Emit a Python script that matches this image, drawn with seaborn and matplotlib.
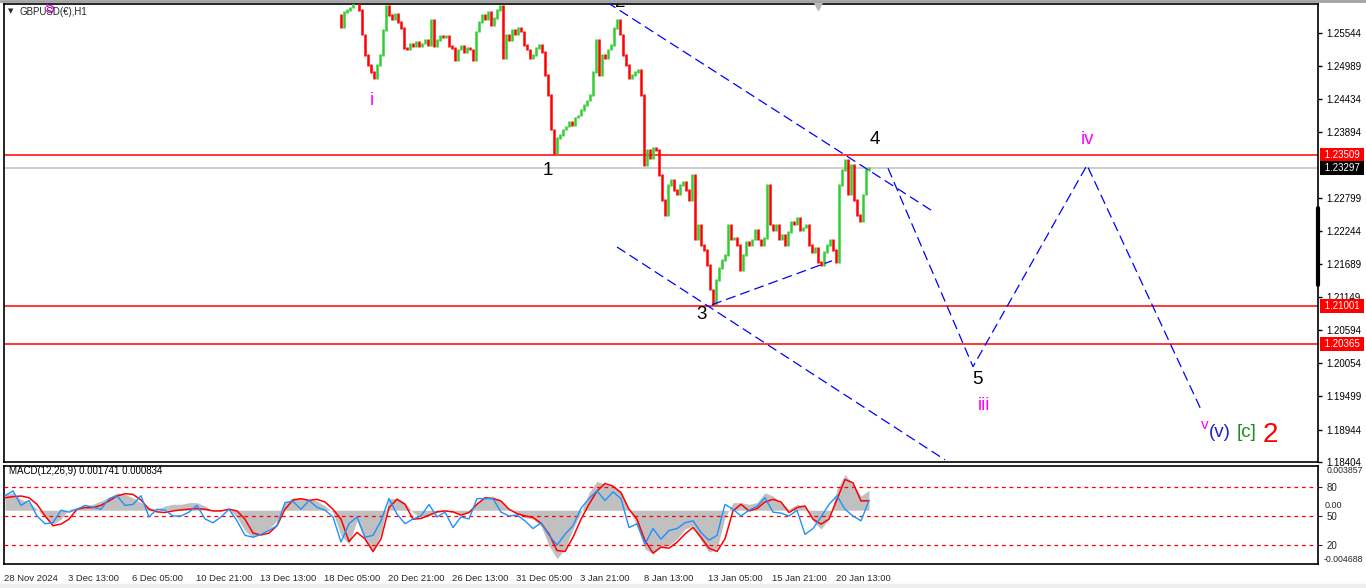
import numpy as np
import pandas as pd
import matplotlib
matplotlib.use("Agg")
import matplotlib.pyplot as plt
from matplotlib.lines import Line2D
from matplotlib.patches import Rectangle
import seaborn as sns

sns.set_style("white")
plt.rcParams['font.family'] = ['Liberation Sans', 'DejaVu Sans']

# ---------------- data ----------------
symbol_title = "GBPUSD(€),H1"
macd_title = "MACD(12,26,9) 0.001741 0.000834"

# hourly closes (sampled), GBPUSD
close_prices = [
    1.2584, 1.2564, 1.2589, 1.2592, 1.2596, 1.2605, 1.2622, 1.2592, 1.2551, 1.2517,
    1.2501, 1.2489, 1.2479, 1.2501, 1.2517, 1.2559, 1.2600, 1.2584, 1.2576, 1.2586,
    1.2572, 1.2562, 1.2529, 1.2526, 1.2536, 1.2531, 1.2539, 1.2532, 1.2536, 1.2542,
    1.2534, 1.2576, 1.2532, 1.2542, 1.2549, 1.2546, 1.2549, 1.2532, 1.2529, 1.2509,
    1.2526, 1.2532, 1.2522, 1.2529, 1.2526, 1.2509, 1.2556, 1.2572, 1.2584, 1.2576,
    1.2589, 1.2567, 1.2579, 1.2592, 1.2600, 1.2512, 1.2551, 1.2542, 1.2559, 1.2551,
    1.2562, 1.2556, 1.2534, 1.2526, 1.2512, 1.2517, 1.2529, 1.2534, 1.2522, 1.2484,
    1.2451, 1.2393, 1.2354, 1.2379, 1.2384, 1.2393, 1.2398, 1.2406, 1.2401, 1.2413,
    1.2417, 1.2426, 1.2434, 1.2442, 1.2451, 1.2489, 1.2542, 1.2484, 1.2517, 1.2512,
    1.2526, 1.2534, 1.2562, 1.2576, 1.2551, 1.2517, 1.2501, 1.2479, 1.2484, 1.2489,
    1.2492, 1.2451, 1.2334, 1.2359, 1.2346, 1.2363, 1.2359, 1.2318, 1.2276, 1.2251,
    1.2301, 1.2310, 1.2293, 1.2285, 1.2301, 1.2306, 1.2293, 1.2276, 1.2318, 1.2210,
    1.2235, 1.2201, 1.2193, 1.2168, 1.2127, 1.2103, 1.2143, 1.2163, 1.2176, 1.2185,
    1.2235, 1.2210, 1.2213, 1.2201, 1.2160, 1.2185, 1.2206, 1.2201, 1.2210, 1.2226,
    1.2210, 1.2201, 1.2213, 1.2301, 1.2235, 1.2226, 1.2235, 1.2210, 1.2218, 1.2201,
    1.2223, 1.2240, 1.2235, 1.2246, 1.2226, 1.2230, 1.2235, 1.2201, 1.2190, 1.2196,
    1.2173, 1.2168, 1.2190, 1.2201, 1.2210, 1.2193, 1.2173, 1.2301, 1.2326, 1.2343,
    1.2285, 1.2334, 1.2276, 1.2251, 1.2240, 1.2285, 1.2326, 1.2330]

# MACD main / signal (units of 1e-5), oscillator (0-100)
macd_main_e5 = [
    138, 152, 95, 66, 9, -63, -121, -78, 9, 23, 37, 52, 81, 109, 152, 138, 109, 66, 23, 9,
    37, 52, 52, 66, 66, 37, -6, -6, 9, -63, -178, -236, -207, -164, -92, 66, 109, 101, 95, 81,
    37, -20, -222, -293, -92, -265, -365, -193, 95, 109, 66, -20, -63, -49, -20, -6,
    -20, -35, -20, 66, 109, 124, 81, 9, -35, -63, -78, -135, -308, -423, -337, -164, -20, 152, 253, 224,
    210, 167, 9, -135, -337, -380, -322, -308, -250, -164, -135, -265, -365, -337, -63, 66, 66, 52, 66, 152,
    124, 66, 9, 52, 37, -92, -164, -78, 181, 311, 224, 124, 174]
macd_signal_e5 = [
    109, 118, 124, 109, 52, -49, -135, -121, -78, 9, 23, 23, 43, 81, 124, 144, 138, 89, 9, -14,
    -20, -6, 3, 9, 14, 9, -6, -6, 9, -6, -78, -199, -216, -199, -135, 9, 89, 101, 86, 95,
    72, 9, -78, -273, -193, -250, -360, -250, 23, 95, 52, -78, -72, -43, -14, -6,
    -14, -43, -20, 52, 109, 101, 81, 9, -29, -49, -63, -112, -207, -351, -360, -236, -78, 52, 167, 233,
    210, 152, 9, -78, -265, -374, -322, -331, -279, -207, -150, -236, -331, -360, -250, -6, 52, -6, 14, 72,
    95, 72, -20, 23, 37, -78, -121, -78, 95, 268, 239, 81, 83]
oscillator = [
    71, 76, 61, 66, 50, 42, 43, 56, 54, 57, 61, 59, 57, 68, 71, 61, 62, 71, 49, 57,
    56, 50, 50, 54, 61, 47, 43, 49, 57, 45, 30, 28, 31, 35, 40, 64, 65, 57, 66, 59,
    56, 49, 23, 42, 49, 28, 30, 45, 68, 52, 42, 47, 50, 62, 49, 54,
    38, 49, 47, 68, 68, 68, 54, 50, 51, 45, 37, 43, 30, 20, 31, 40, 58, 68, 76, 66,
    75, 68, 38, 42, 21, 37, 26, 35, 37, 43, 45, 33, 25, 30, 62, 57, 50, 56, 60, 69,
    54, 53, 50, 56, 31, 37, 49, 62, 71, 57, 50, 45, 66]
osc_levels = [80, 50, 20]

price_ticks = [1.25544, 1.24989, 1.24434, 1.23894, 1.22799, 1.22244, 1.21689,
               1.21149, 1.20594, 1.20054, 1.19499, 1.18944, 1.18404]
price_tick_labels = ["1.25544", "1.24989", "1.24434", "1.23894", "1.22799", "1.22244", "1.21689",
                     "1.21149", "1.20594", "1.20054", "1.19499", "1.18944", "1.18404"]
red_levels = [1.23509, 1.21001, 1.20365]
bid_level = 1.23297

date_tick_labels = ["28 Nov 2024", "3 Dec 13:00", "6 Dec 05:00", "10 Dec 21:00", "13 Dec 13:00",
                    "18 Dec 05:00", "20 Dec 21:00", "26 Dec 13:00", "31 Dec 05:00", "3 Jan 21:00",
                    "8 Jan 13:00", "13 Jan 05:00", "15 Jan 21:00", "20 Jan 13:00"]

# wave drawings (bar position, price)
upper_channel = ([603, 931], [1.2605, 1.2255])
lower_channel = ([613, 941], [1.2198, 1.1844])
wave3_line = ([708, 828], [1.2102, 1.2175])
projection = ([884, 969, 1083, 1198], [1.2329, 1.1999, 1.2334, 1.1924])

# ---------------- layout ----------------
W, H = 1366, 588
fig = plt.figure(figsize=(W / 100, H / 100), dpi=100)
fig.patch.set_facecolor("white")
FS = 7
FS_DATE = 6.8
XR = 1318  # right border of the panels (px)


def fr(x0, y0, x1, y1):
    return [x0 / W, 1 - y1 / H, (x1 - x0) / W, (y1 - y0) / H]


ax = fig.add_axes(fr(4, 4, XR, 462))
ax2 = fig.add_axes(fr(4, 466, XR, 564))
XMAX = XR - 4
ax.set_xlim(0, XMAX)
ax.set_ylim(1.18405, 1.26021)
ax2.set_xlim(0, XMAX)
ax2.set_ylim(-0.004688, 0.003857)

for a in (ax, ax2):
    for s in a.spines.values():
        s.set_color("black")
        s.set_linewidth(1.2)
    a.set_facecolor("white")

# ---------------- price panel ----------------
c = np.array(close_prices)
bar_x = np.arange(334, 334 + 3 * len(c), 3)[: len(c)]
o = c[:-1]
cl = c[1:]
xs = bar_x[1:]
up = cl >= o
lo = np.minimum(o, cl) - 0.00012
hi = np.maximum(o, cl) + 0.00012
ax.vlines(xs[up], lo[up], hi[up], color="#32CD32", lw=1.8, zorder=3)
ax.vlines(xs[~up], lo[~up], hi[~up], color="#FF0000", lw=1.8, zorder=3)

for lv in red_levels:
    ax.axhline(lv, color="#FF0000", lw=1.1, zorder=2)
ax.axhline(bid_level, color="#C0C0C0", lw=1.1, zorder=2)

dash = (0, (8, 4))
for xx, yy in (upper_channel, lower_channel, wave3_line, projection):
    sns.lineplot(x=xx, y=yy, ax=ax, color="#0000FF", lw=0.9, linestyle=dash, sort=False, zorder=4)

ax.set_xticks([])
ax.yaxis.tick_right()
ax.set_yticks(price_ticks)
ax.set_yticklabels(price_tick_labels)
ax.tick_params(axis="y", length=3, width=1, pad=3, labelsize=FS, colors="black", direction="out")

ytr = ax.get_yaxis_transform()
off = 4 / XMAX
for lv, fc in ((1.23509, "#FF0000"), (1.21001, "#FF0000"), (1.20365, "#FF0000"), (bid_level, "black")):
    ax.text(1 + off, lv, f" {lv:.5f} ", transform=ytr, ha="left", va="center", fontsize=FS,
            color="white", clip_on=False, zorder=10,
            bbox=dict(facecolor=fc, edgecolor="none", pad=1.3))

# wave labels
lab = dict(ha="center", va="center", clip_on=True, zorder=6)
ax.text(45, 1.2594, "5", color="#FF00FF", fontsize=13, **lab)
ax.text(368, 1.2442, "i", color="#FF00FF", fontsize=13.5, **lab)
ax.text(544, 1.2326, "1", color="black", fontsize=13.5, **lab)
ax.text(616, 1.2604, "2", color="black", fontsize=13.5, **lab)
ax.text(698, 1.2085, "3", color="black", fontsize=13.5, **lab)
ax.text(871, 1.2376, "4", color="black", fontsize=13.5, **lab)
ax.text(973, 1.1977, "5", color="black", fontsize=13.5, **lab)
ax.text(980, 1.1935, "iii", color="#FF00FF", fontsize=13.5, **lab)
ax.text(1084, 1.2376, "iv", color="#FF00FF", fontsize=13.5, **lab)
ax.text(1201, 1.1902, "v", color="#FF00FF", fontsize=11, **lab)
ax.text(1216, 1.1889, "(v)", color="#2020C8", fontsize=13.5, **lab)
ax.text(1243, 1.1889, "[c]", color="#1E8C1E", fontsize=13.5, **lab)
ax.text(1266, 1.1885, "2", color="#FF0000", fontsize=20, **lab)

ax.plot([814], [1.2599], marker="v", color="#B8B8B8", ms=6, clip_on=False, zorder=7)

# ---------------- MACD panel ----------------
xm = np.arange(1, 1 + 8 * len(macd_main_e5), 8)
macd_main = np.array(macd_main_e5) * 1e-5
macd_signal = np.array(macd_signal_e5) * 1e-5
ax2.fill_between(xm, 0, macd_main, color="#C0C0C0", lw=0, zorder=1)
sns.lineplot(x=xm, y=macd_signal, ax=ax2, color="#FF0000", lw=1.1, zorder=4)

ax3 = ax2.twinx()
ax3.set_ylim(0.34, 101.73)
ax3.set_xlim(0, XMAX)
for lv in osc_levels:
    ax3.axhline(lv, color="#FF0000", lw=0.9, linestyle=(0, (3, 3)), zorder=2)
sns.lineplot(x=xm, y=oscillator, ax=ax3, color="#1E90FF", lw=1.0, zorder=3)
ax3.set_ylabel("")
ax3.set_yticks(osc_levels)
ax3.set_yticklabels([str(v) for v in osc_levels])
ax3.tick_params(axis="y", length=3, pad=3, labelsize=FS, direction="out")
for s in ax3.spines.values():
    s.set_visible(False)

ax2.set_ylabel("")
ax2.set_yticks([])
ytr2 = ax2.get_yaxis_transform()
rx = 1 + 45 / XMAX
ax2.text(rx, 0.003857, "0.003857", transform=ytr2, ha="right", va="top", fontsize=6.3, clip_on=False)
ax2.text(1 + 7 / XMAX, 0.0, "0.00", transform=ytr2, ha="left", va="bottom", fontsize=6.5, clip_on=False)
ax2.text(rx, -0.004688, "-0.004688", transform=ytr2, ha="right", va="bottom", fontsize=6.3, clip_on=False)

ax2.text(5, 0.00345, macd_title, ha="left", va="center", fontsize=FS, color="black", zorder=8)

date_pos = np.arange(0, 64 * len(date_tick_labels), 64)
ax2.set_xticks(date_pos)
ax2.set_xticklabels(date_tick_labels, ha="left", fontsize=FS_DATE)
ax2.tick_params(axis="x", length=4, width=1, pad=3, direction="out")

# ---------------- window decorations ----------------
fig.text(20 / W, 1 - 12 / H, symbol_title, ha="left", va="center", fontsize=FS)
fig.text(8 / W, 1 - 11 / H, "▼", ha="left", va="center", fontsize=5, family="DejaVu Sans")
fig.add_artist(Line2D([0, 1], [1 - 1 / H, 1 - 1 / H], color="#A0A0A0", lw=2))
fig.add_artist(Line2D([XR / W, XR / W], [1 - 208 / H, 1 - 285 / H], color="black", lw=3))
fig.add_artist(Rectangle((0, 0), 1, 4 / H, transform=fig.transFigure, color="#EEEEEE", zorder=0))

fig.savefig("out.png", dpi=100, facecolor="white")
